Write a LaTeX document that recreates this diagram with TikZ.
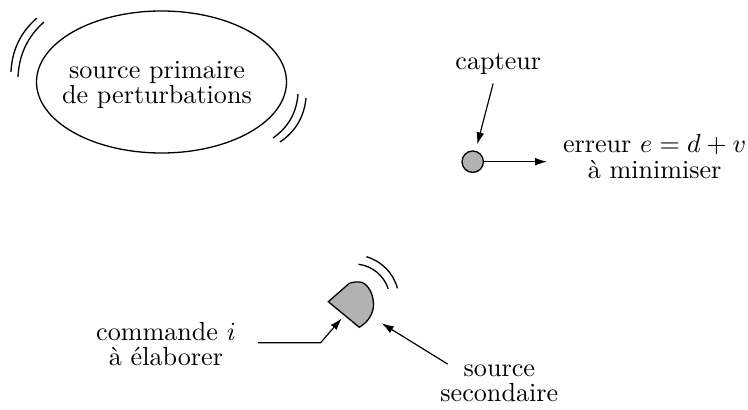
\documentclass[tikz,border=0pt]{standalone}
\usepackage{fontspec}
\usetikzlibrary{arrows.meta}
\begin{document}
\begin{tikzpicture}[x=0.383pt,y=-0.383pt,
  lbl/.style={font=\fontsize{10pt}{9.7pt}\selectfont, align=center, inner sep=3.33pt},
  arr/.style={-{Latex[length=4.6pt,width=3pt]}, line width=0.45pt},
  wave/.style={line width=0.5pt},
  shell/.style={line width=0.5pt},
  grayfill/.style={draw, line width=0.5pt, fill=black!30}]
\useasboundingbox (0,0) rectangle (748,410);

% primary source
\draw[shell] (161.5,82) ellipse[x radius=125, y radius=71];
\node[lbl] (prim) at (157,84.8) {source primaire\\de perturbations};
\draw[wave] (37,18) .. controls (20.5,32.3) and (11.9,50.3) .. (11,72);
\draw[wave] (44,22) .. controls (27.5,36.6) and (18.9,55) .. (18,77);
\draw[wave] (306,98) .. controls (304.2,116.8) and (295.6,131.4) .. (280,142);
\draw[wave] (298,94) .. controls (296.6,112.8) and (288.2,127.4) .. (273,138);

% sensor
\node[lbl] (capteur) at (498.3,63.8) {capteur};
\node[circle, grayfill, minimum size=8.2pt, inner sep=0pt] (sensor) at (472.7,161.7) {};
\node[lbl] (erreur) at (654.6,156.5) {erreur $e=d+v$\\à minimiser};
\draw[arr, shorten >=2.5pt] (capteur) -- (sensor);
\draw[arr, shorten >=2.6pt] (sensor) -- (sensor -| erreur.west);

% secondary source (loudspeaker)
\draw[grayfill] (328.3,301.7) -- (349.3,283.3)
  .. controls (354,281.8) and (357.5,281.6) .. (361.7,282.3)
  .. controls (368.5,285) and (373.5,294) .. (373.5,305)
  .. controls (373.3,314) and (368,322) .. (359.3,327.3) -- cycle;
\draw[wave] (354,300) ++(-83:36) arc[start angle=-83, end angle=-18, radius=36];
\draw[wave] (354,300) ++(-74:45) arc[start angle=-74, end angle=-15, radius=45];
\coordinate (bendA) at (320.7,342.7);
\coordinate (tipA) at (341.7,318.3);
\coordinate (tipB) at (381.7,323.3);

\node[lbl] (commande) at (166,344.3) {commande $i$\\à élaborer};
\node[lbl] (secondaire) at (499.3,383.6) {source\\secondaire};
\draw[arr, shorten <=4.9pt] (commande.east |- bendA) -- (bendA) -- (tipA);
\draw[arr] ([xshift=6.3pt, yshift=-3.2pt]secondaire.north west) -- (tipB);
\end{tikzpicture}
\end{document}
